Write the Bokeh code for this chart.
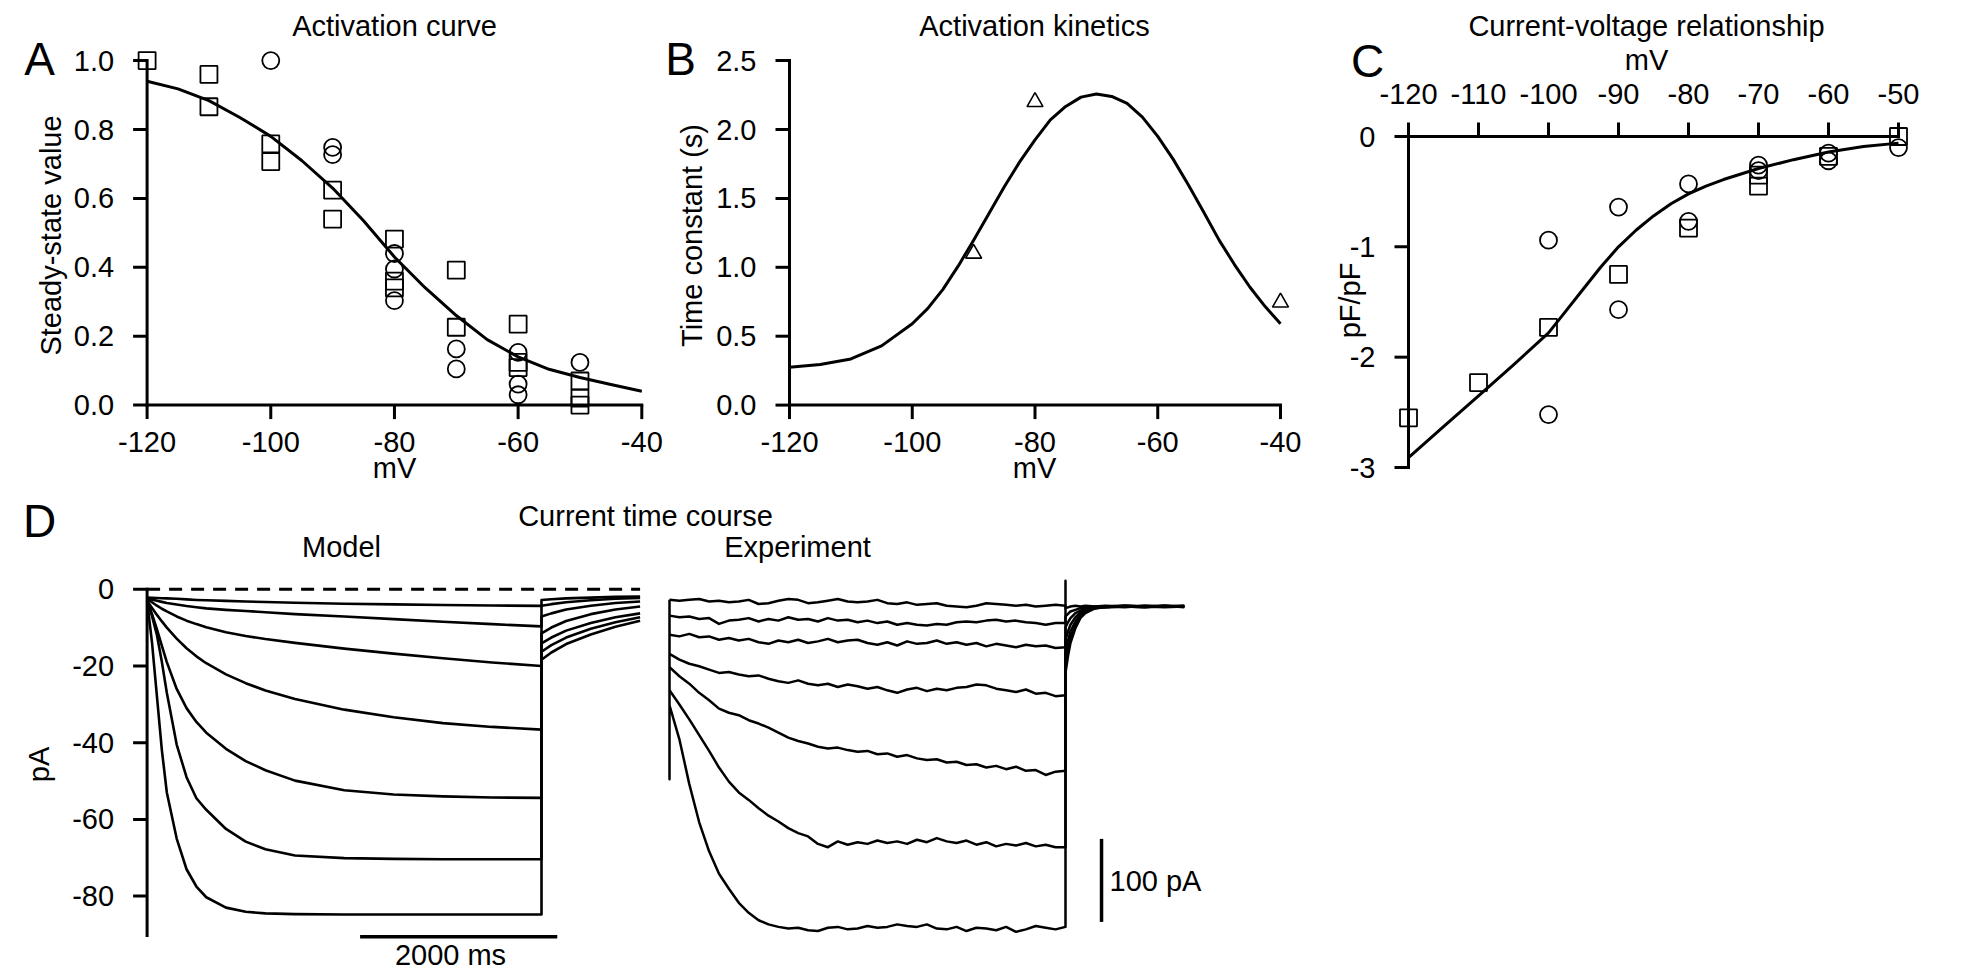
from math import pi
from bokeh.plotting import figure
from bokeh.models import Range1d, Label
from bokeh.core.properties import value
from bokeh.embed import file_html
from bokeh.resources import INLINE

FONT = "Liberation Sans"
INK = "black"
TXT = "29px"
LETTER = "46px"
AXW = 3.0
TICK = 14

# ---------------- Panel A: activation curve ----------------
a_fit_mv = [-120, -115, -110, -105, -100, -95, -90, -85, -80, -75, -70, -65, -60, -55, -50, -45, -40]
a_fit = [0.94, 0.918, 0.884, 0.835, 0.78, 0.71, 0.63, 0.535, 0.43, 0.34, 0.26, 0.19, 0.14, 0.104, 0.08, 0.06, 0.04]
a_sq_mv = [-120, -110, -110, -100, -100, -90, -90, -80, -80, -80, -70, -70, -60, -60, -60, -50, -50, -50]
a_sq = [1.0, 0.96, 0.866, 0.758, 0.707, 0.624, 0.54, 0.482, 0.36, 0.34, 0.392, 0.226, 0.235, 0.124, 0.109, 0.07, 0.02, 0.0]
a_ci_mv = [-100, -90, -90, -80, -80, -80, -70, -70, -60, -60, -60, -50]
a_ci = [1.0, 0.748, 0.727, 0.44, 0.395, 0.303, 0.163, 0.105, 0.153, 0.061, 0.03, 0.124]
a_xticks = [-120, -100, -80, -60, -40]
a_yticks = [0.0, 0.2, 0.4, 0.6, 0.8, 1.0]

# ---------------- Panel B: activation kinetics ----------------
b_fit_mv = [-120, -115, -110, -105, -100, -97.5, -95, -92.5, -90, -87.5, -85, -82.5, -80, -77.5, -75,
            -72.5, -70, -67.5, -65, -62.5, -60, -57.5, -55, -52.5, -50, -47.5, -45, -42.5, -40]
b_fit = [0.274, 0.294, 0.335, 0.43, 0.59, 0.70, 0.84, 1.01, 1.197, 1.39, 1.585, 1.765, 1.925, 2.07, 2.167,
         2.235, 2.257, 2.24, 2.19, 2.09, 1.95, 1.785, 1.597, 1.40, 1.197, 1.02, 0.857, 0.715, 0.59]
b_tri_mv = [-90, -80, -40]
b_tri = [1.10, 2.20, 0.745]
b_xticks = [-120, -100, -80, -60, -40]
b_yticks = [0.0, 0.5, 1.0, 1.5, 2.0, 2.5]

# ---------------- Panel C: current-voltage relationship ----------------
c_fit_mv = [-120, -115, -110, -105, -100, -97.5, -95, -92.5, -90, -87.5, -85, -82.5, -80, -77.5, -75, -70, -65, -60, -55, -50]
c_fit = [-2.91, -2.63, -2.35, -2.07, -1.78, -1.58, -1.38, -1.18, -1.0, -0.85, -0.72, -0.61, -0.52, -0.45, -0.39, -0.29, -0.21, -0.14, -0.09, -0.06]
c_sq_mv = [-120, -110, -100, -90, -80, -70, -70, -60, -50]
c_sq = [-2.55, -2.23, -1.73, -1.25, -0.83, -0.45, -0.35, -0.18, 0.0]
c_ci_mv = [-100, -100, -90, -90, -80, -80, -70, -70, -60, -60, -50]
c_ci = [-0.94, -2.52, -0.64, -1.57, -0.43, -0.77, -0.26, -0.31, -0.22, -0.15, -0.1]
c_xticks = [-120, -110, -100, -90, -80, -70, -60, -50]
c_yticks = [0, -1, -2, -3]

# ---------------- Panel D: model traces (pA vs ms) ----------------
m_t = [0, 50, 100, 150, 200, 300, 400, 500, 600, 800, 1000, 1200, 1500, 2000, 2500, 3000, 3500, 4000]
m1 = [-2.2, -2.25, -2.3, -2.35, -2.4, -2.5, -2.65, -2.8, -2.9, -3.05, -3.2, -3.35, -3.55, -3.8, -3.95, -4.1, -4.25, -4.35]
m2 = [-2.3, -2.7, -3.0, -3.3, -3.6, -4.0, -4.4, -4.7, -5.0, -5.4, -5.7, -6.0, -6.5, -7.1, -7.8, -8.5, -9.1, -9.7]
m3 = [-2.5, -3.4, -4.3, -5.1, -5.8, -7.1, -8.2, -9.1, -9.9, -11.2, -12.2, -13.0, -14.0, -15.5, -16.8, -18.0, -19.1, -20.0]
m4 = [-3.0, -4.9, -6.7, -8.4, -10.0, -12.9, -15.4, -17.5, -19.3, -22.2, -24.5, -26.4, -28.6, -31.4, -33.4, -34.9, -35.9, -36.6]
m5 = [-3.0, -6.5, -10.5, -14.8, -19.0, -26.0, -31.0, -34.6, -37.4, -41.6, -44.8, -47.2, -49.9, -52.4, -53.5, -54.0, -54.3, -54.4]
m6 = [-3.0, -7.0, -12.0, -19.0, -27.0, -40.5, -49.0, -54.5, -57.5, -62.5, -65.8, -67.8, -69.4, -70.1, -70.3, -70.4, -70.4, -70.4]
m7 = [-3.0, -14.0, -28.0, -42.0, -53.0, -65.0, -73.0, -77.5, -80.3, -83.0, -84.1, -84.5, -84.7, -84.8, -84.8, -84.8, -84.8, -84.8]
m_tail_t = [4000, 4100, 4250, 4500, 4750, 5000]
mt1 = [-2.8, -2.6, -2.4, -2.2, -2.0, -1.9]
mt2 = [-4.3, -3.9, -3.4, -2.9, -2.5, -2.3]
mt3 = [-7.1, -6.3, -5.3, -4.3, -3.6, -3.2]
mt4 = [-11.5, -10.0, -8.3, -6.5, -5.3, -4.5]
mt5 = [-14.1, -12.6, -10.8, -8.8, -7.3, -6.3]
mt6 = [-16.3, -14.6, -12.6, -10.3, -8.6, -7.3]
mt7 = [-18.4, -16.5, -14.3, -11.8, -9.8, -8.2]
d_yticks = [0, -20, -40, -60, -80]
m_axis_bottom = -90.3
scale_ms = 2000
scale_ms_start = 2160
scale_ms_level = -90.6

# ---------------- Panel D: experiment traces (pA vs ms) ----------------
e_t = list(range(0, 4001, 100))
e1 = [8, 7, 8, 9, 6, 7, 5, 6, 8, 3, 4, 7, 9, 8, 4, 5, 7, 9, 6, 5, 6, 8, 4, 3, 5, 2, 3, 4, 1, 0, -1, 1, 4, 3, 2, 1, 2, 0, 1, 2, 1]
e2 = [-11, -13, -12, -15, -14, -21, -17, -16, -14, -18, -15, -17, -13, -16, -15, -18, -14, -17, -16, -19, -17, -20, -18, -22, -20, -22, -23, -21, -22, -19, -18, -19, -17, -16, -18, -17, -19, -20, -22, -20, -20]
e3 = [-34, -36, -33, -37, -36, -40, -38, -41, -39, -43, -45, -41, -43, -40, -44, -42, -39, -43, -41, -40, -44, -46, -43, -47, -42, -45, -44, -41, -45, -43, -46, -44, -48, -45, -47, -49, -46, -48, -47, -50, -49]
e4 = [-57, -64, -69, -72, -76, -80, -79, -82, -84, -83, -87, -90, -92, -89, -93, -95, -93, -97, -94, -96, -99, -97, -101, -104, -100, -98, -102, -99, -101, -98, -97, -94, -95, -99, -101, -103, -100, -105, -104, -108, -107]
e5 = [-73, -84, -93, -104, -113, -123, -128, -131, -137, -141, -146, -152, -158, -162, -165, -169, -171, -170, -173, -175, -174, -178, -177, -181, -179, -183, -185, -184, -188, -187, -191, -190, -194, -192, -196, -193, -198, -197, -203, -199, -198]
e6 = [-101, -118, -136, -155, -174, -194, -211, -224, -233, -243, -252, -259, -267, -273, -277, -286, -290, -283, -287, -284, -286, -282, -285, -283, -286, -281, -284, -279, -283, -285, -282, -287, -284, -289, -286, -288, -285, -289, -287, -290, -290]
e7 = [-119, -160, -214, -260, -295, -322, -340, -357, -369, -378, -383, -386, -388, -387, -390, -391, -387, -386, -389, -388, -385, -387, -386, -383, -385, -386, -383, -388, -389, -386, -391, -387, -388, -390, -386, -392, -389, -385, -387, -389, -386]
e_tail_t = [4000, 4025, 4050, 4100, 4150, 4200, 4300, 4400, 4600, 4800, 5000, 5200]
et1 = [-2, -1, 0, 1, 0, 1, 0, -1, 1, 0, 1, 0]
et2 = [-12, -9, -6, -4, -2, -1, 0, 1, 0, -1, 0, 1]
et3 = [-25, -19, -14, -8, -5, -2, -1, 0, 1, 0, -1, 0]
et4 = [-40, -30, -22, -13, -7, -4, -1, 0, -1, 1, 0, 0]
et5 = [-55, -41, -30, -18, -10, -5, -2, 0, 1, 0, 1, -1]
et6 = [-68, -51, -37, -22, -12, -7, -2, -1, 0, 1, 0, 1]
et7 = [-80, -60, -44, -26, -14, -8, -2, -1, 0, -1, 1, 0]
e_cap_on = [8, -208]      # capacitive transient at step onset
e_cap_off = [31]          # capacitive transient at step offset
scale_pa = 100
scale_pa_t = 4364
scale_pa_bottom = -380

# ---------------- one page-sized figure; every panel has its own scales ----------------
W, H = 1960, 970
X0, Y0 = 0, 0
p = figure(width=W, height=H, x_range=Range1d(X0, X0 + W), y_range=Range1d(-(Y0 + H), -Y0),
           x_axis_location=None, y_axis_location=None, min_border=0,
           toolbar_location=None, tools="", output_backend="svg")
p.outline_line_color = None
p.grid.visible = False
p.background_fill_color = "white"
p.border_fill_color = "white"

ranges_x, ranges_y = {}, {}


class Panel:
    """Linear data->page mapping from two anchor points per dimension."""

    def __init__(self, name, xa, ya):
        (dx1, px1), (dx2, px2) = xa
        (dy1, py1), (dy2, py2) = ya
        self.sx = (px2 - px1) / (dx2 - dx1)
        self.sy = (py2 - py1) / (dy2 - dy1)
        self.dx1, self.px1, self.dy1, self.py1 = dx1, px1, dy1, py1
        ranges_x[name] = Range1d(self.dx(X0), self.dx(X0 + W))
        ranges_y[name] = Range1d(self.dy(Y0 + H), self.dy(Y0))
        self.kw = dict(x_range_name=name, y_range_name=name)

    def dx(self, px):
        return self.dx1 + (px - self.px1) / self.sx

    def dy(self, py):
        return self.dy1 + (py - self.py1) / self.sy

    def px(self, x):
        return self.px1 + (x - self.dx1) * self.sx


PA = Panel("A", ((-120, 146.6), (-40, 641.3)), ((1.0, 60.1), (0.0, 404.6)))
PB = Panel("B", ((-120, 789.0), (-40, 1280.0)), ((2.5, 60.1), (0.0, 404.6)))
PC = Panel("C", ((-120, 1408.0), (-50, 1898.0)), ((0.0, 136.0), (-3.0, 467.0)))
PM = Panel("M", ((0, 146.6), (4000, 541.0)), ((0, 588.7), (-80, 895.6)))
PE = Panel("E", ((0, 669.0), (4000, 1065.0)), ((0, 606.0), (-100, 689.0)))
p.extra_x_ranges = ranges_x
p.extra_y_ranges = ranges_y


def tick_text(P, xs, ys, labels, align):
    p.text(x=xs, y=ys, text=labels, text_font=value(FONT), text_font_size=value(TXT),
           text_align=align, text_baseline="middle", text_color=INK, **P.kw)


def x_axis(P, ticks, labels, cross, side, label_page_y):
    n = len(ticks)
    p.line([ticks[0], ticks[-1]], [cross, cross], line_width=AXW, color=INK, line_cap="square", **P.kw)
    p.ray(x=ticks, y=[cross] * n, length=TICK, length_units="screen",
          angle=(-pi / 2 if side == "below" else pi / 2), line_width=AXW, color=INK, **P.kw)
    tick_text(P, ticks, [P.dy(label_page_y)] * n, labels, "center")


def y_axis(P, ticks, labels, cross, lo, hi):
    n = len(ticks)
    p.line([cross, cross], [lo, hi], line_width=AXW, color=INK, line_cap="square", **P.kw)
    p.ray(x=[cross] * n, y=ticks, length=TICK, length_units="screen", angle=pi,
          line_width=AXW, color=INK, **P.kw)
    label_x = P.dx(P.px(cross) - TICK - 19)
    tick_text(P, [label_x] * n, ticks, labels, "right")


def text(px, py, s, size=TXT, angle=0, align="center"):
    p.add_layout(Label(x=px, y=-py, text=s, text_font=FONT, text_font_size=size,
                       text_align=align, text_baseline="middle", angle=angle, angle_units="deg",
                       text_color=INK))


def squares(P, x, y):
    p.scatter(x, y, marker="square", size=17, fill_color=None, line_color=INK, line_width=1.8, **P.kw)


def circles(P, x, y):
    p.scatter(x, y, marker="circle", size=17, fill_color=None, line_color=INK, line_width=1.8, **P.kw)


# ---------------- Panel A ----------------
x_axis(PA, a_xticks, [str(v) for v in a_xticks], 0.0, "below", 441)
y_axis(PA, a_yticks, ["%.1f" % v for v in a_yticks], -120, a_yticks[0], a_yticks[-1])
p.line(a_fit_mv, a_fit, line_width=AXW, color=INK, line_join="round", **PA.kw)
squares(PA, a_sq_mv, a_sq)
circles(PA, a_ci_mv, a_ci)
text(39, 58, "A", size=LETTER)
text(394, 25, "Activation curve")
text(50, 235, "Steady-state value", angle=90)
text(394, 467, "mV")

# ---------------- Panel B ----------------
x_axis(PB, b_xticks, [str(v) for v in b_xticks], 0.0, "below", 441)
y_axis(PB, b_yticks, ["%.1f" % v for v in b_yticks], -120, b_yticks[0], b_yticks[-1])
p.line(b_fit_mv, b_fit, line_width=AXW, color=INK, line_join="round", **PB.kw)
p.scatter(b_tri_mv, b_tri, marker="triangle", size=16, fill_color=None, line_color=INK, line_width=1.6, **PB.kw)
text(680, 58, "B", size=LETTER)
text(1034, 25, "Activation kinetics")
text(691, 235, "Time constant (s)", angle=90)
text(1034, 467, "mV")

# ---------------- Panel C ----------------
x_axis(PC, c_xticks, [str(v) for v in c_xticks], 0.0, "above", 93)
y_axis(PC, c_yticks, [str(v) for v in c_yticks], -120, c_yticks[-1], c_yticks[0])
p.line(c_fit_mv, c_fit, line_width=AXW, color=INK, line_join="round", **PC.kw)
squares(PC, c_sq_mv, c_sq)
circles(PC, c_ci_mv, c_ci)
text(1367, 60, "C", size=LETTER)
text(1646, 25, "Current-voltage relationship")
text(1646, 59, "mV")
text(1349, 300, "pF/pF", angle=90)

# ---------------- Panel D: model ----------------
y_axis(PM, d_yticks, [str(v) for v in d_yticks], 0, m_axis_bottom, 0)
p.line([m_t[0], m_tail_t[-1]], [0, 0], line_width=AXW, color=INK, line_dash="13 9", **PM.kw)
for tr, tl in [(m1, mt1), (m2, mt2), (m3, mt3), (m4, mt4), (m5, mt5), (m6, mt6), (m7, mt7)]:
    p.line(m_t + m_tail_t, tr + tl, line_width=2.6, color=INK, line_join="round", **PM.kw)
p.line([scale_ms_start, scale_ms_start + scale_ms], [scale_ms_level, scale_ms_level],
       line_width=3.5, color=INK, **PM.kw)

# ---------------- Panel D: experiment ----------------
for tr, tl in [(e1, et1), (e2, et2), (e3, et3), (e4, et4), (e5, et5), (e6, et6)]:
    p.line(e_t + e_tail_t, tr + tl, line_width=2.5, color=INK, line_join="round", **PE.kw)
t7 = [e_t[0], e_t[0]] + e_t + [e_t[-1]] + e_tail_t
v7 = e_cap_on + e7 + e_cap_off + et7
p.line(t7, v7, line_width=2.5, color=INK, line_join="round", **PE.kw)
p.line([scale_pa_t, scale_pa_t], [scale_pa_bottom, scale_pa_bottom + scale_pa], line_width=3.5, color=INK, **PE.kw)

text(39, 520, "D", size=LETTER)
text(645, 515, "Current time course")
text(341, 546, "Model")
text(797, 546, "Experiment")
text(38, 764, "pA", angle=90)
text(450, 954, "2000 ms")
text(1109, 880, "100 pA", align="left")

open("out.html", "w").write(file_html(p, INLINE))
